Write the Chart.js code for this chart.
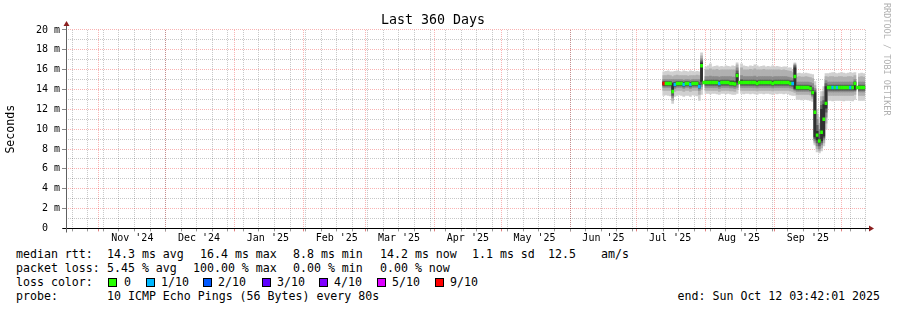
<!DOCTYPE html>
<html><head><meta charset="utf-8">
<script src="https://cdn.jsdelivr.net/npm/chart.js@4.4.1/dist/chart.umd.min.js"></script>
<style>
html,body{margin:0;padding:0;background:#fff;}
#wrap{position:relative;width:897px;height:310px;overflow:hidden;font-family:'DejaVu Sans Mono',monospace;}
#c{position:absolute;left:0;top:0;}
.t{position:absolute;font-size:11.6px;line-height:14px;white-space:pre;color:#000;}
.sw{position:absolute;width:9px;height:9px;box-sizing:border-box;border:1px solid #000;}
#wm{position:absolute;left:882px;top:3px;font-size:8.5px;line-height:10px;writing-mode:vertical-rl;color:#b0b0b0;white-space:pre;}
</style></head>
<body><div id="wrap">
<canvas id="c" width="897" height="245"></canvas>
<div id="wm">RRDTOOL / TOBI OETIKER</div>
<span class="t" style="left:16px;top:247px">median rtt:</span>
<span class="t" style="left:107px;top:247px">14.3 ms avg</span>
<span class="t" style="left:200px;top:247px">16.4 ms max</span>
<span class="t" style="left:293px;top:247px">8.8 ms min</span>
<span class="t" style="left:380px;top:247px">14.2 ms now</span>
<span class="t" style="left:472px;top:247px">1.1 ms sd</span>
<span class="t" style="left:548px;top:247px">12.5</span>
<span class="t" style="left:601px;top:247px">am/s</span>
<span class="t" style="left:16px;top:261px">packet loss:</span>
<span class="t" style="left:107px;top:261px">5.45 % avg</span>
<span class="t" style="left:193px;top:261px">100.00 % max</span>
<span class="t" style="left:293px;top:261px">0.00 % min</span>
<span class="t" style="left:380px;top:261px">0.00 % now</span>
<span class="t" style="left:16px;top:275px">loss color:</span>
<span class="sw" style="left:108px;top:278px;background:#26ff00"></span><span class="t" style="left:124px;top:275px">0</span>
<span class="sw" style="left:146px;top:278px;background:#00b8ff"></span><span class="t" style="left:161px;top:275px">1/10</span>
<span class="sw" style="left:203px;top:278px;background:#0059ff"></span><span class="t" style="left:218px;top:275px">2/10</span>
<span class="sw" style="left:262px;top:278px;background:#5e00ff"></span><span class="t" style="left:277px;top:275px">3/10</span>
<span class="sw" style="left:319px;top:278px;background:#7e00ff"></span><span class="t" style="left:334px;top:275px">4/10</span>
<span class="sw" style="left:377px;top:278px;background:#dd00ff"></span><span class="t" style="left:392px;top:275px">5/10</span>
<span class="sw" style="left:435px;top:278px;background:#ff0000"></span><span class="t" style="left:450px;top:275px">9/10</span>
<span class="t" style="left:16px;top:289px">probe:</span>
<span class="t" style="left:107px;top:289px">10 ICMP Echo Pings (56 Bytes) every 80s</span>
<span class="t" style="right:17px;top:289px">end: Sun Oct 12 03:42:01 2025</span>
</div>
<script>
// ---- time window ----
const START = Date.UTC(2024, 9, 17, 3, 42, 1);
const DAY = 86400000;
const SPAN_DAYS = 360;
const FIRST_DAY = 269; // first day (after window start) with data

const monthStarts = ['2024-11-01','2024-12-01','2025-01-01','2025-02-01','2025-03-01','2025-04-01','2025-05-01','2025-06-01','2025-07-01','2025-08-01','2025-09-01','2025-10-01'];
const labelDates = ['2024-11-16','2024-12-16','2025-01-16','2025-02-16','2025-03-16','2025-04-16','2025-05-16','2025-06-16','2025-07-16','2025-08-16','2025-09-16'];
const monthLabels = ["Nov '24","Dec '24","Jan '25","Feb '25","Mar '25","Apr '25","May '25","Jun '25","Jul '25","Aug '25","Sep '25"];
const firstWeek = '2024-10-20';
const yTickValues = [0,1,2,3,4,5,6,7,8,9,10,11,12,13,14,15,16,17,18,19,20];

// ---- data (ms), one value per day ----
const median = [14.6,14.6,14.6,14.6,13.8,14.5,14.6,14.6,14.6,14.5,
 14.6,14.6,14.5,14.6,14.6,14.6,14.3,16.4,14.7,14.7,
 14.7,14.7,14.7,14.7,14.7,14.6,14.7,14.7,14.7,14.7,
 14.6,14.6,14.55,15.4,14.7,14.7,14.7,14.7,14.7,14.7,
 14.7,14.7,14.6,14.7,14.7,14.7,14.7,14.7,14.7,14.6,
 14.7,14.7,14.7,14.7,14.7,14.7,14.7,14.6,14.6,15.3,
 14.2,14.2,14.2,14.2,14.2,14.2,14.1,13.7,11.7,9.4,
 8.8,9.7,11.0,12.6,14.2,14.2,14.2,14.2,14.2,14.2,
 14.2,14.2,14.2,14.2,14.2,14.2,14.6,14.2,14.2,14.2,
 14.2];
const loss = [9,0,0,0,0,1,0,0,0,1,
 0,0,1,0,0,0,1,0,0,0,
 0,0,0,0,0,1,0,0,0,0,
 0,0,0,0,0,0,0,0,0,0,
 0,0,0,0,0,0,0,0,0,0,
 0,0,0,0,0,0,0,0,1,0,
 0,0,0,0,0,0,0,0,0,0,
 0,0,0,0,0,0,1,0,1,0,
 0,0,0,0,1,0,0,0,0,0,
 0];
const ping10 = [15.8,15.85,15.9,15.8,15.8,15.85,15.9,15.85,15.8,15.9,
 15.85,15.8,15.9,15.85,15.8,15.85,15.8,17.7,null,16.3,
 16.4,16.6,16.3,16.35,16.4,16.3,16.35,16.3,16.4,16.35,
 16.3,16.4,16.35,16.7,null,16.6,16.4,16.35,16.3,16.4,
 16.35,16.5,16.4,16.3,16.35,16.4,16.3,16.35,16.3,16.4,
 16.3,16.35,16.3,16.25,16.3,16.3,16.2,16.2,16.0,16.7,
 15.6,15.65,15.6,15.6,15.65,15.6,15.55,15.5,14.8,12.0,
 11.2,13.8,14.3,15.6,15.6,15.65,15.7,15.65,15.6,15.65,
 15.7,15.65,15.6,15.65,15.7,15.65,15.7,null,15.6,15.65,
 15.6];
const ping9 = [15.4,15.4,15.45,15.4,15.3,15.4,15.45,15.4,15.4,15.4,
 15.4,15.35,15.4,15.4,15.4,15.45,15.4,17.4,null,16.0,
 16.0,16.1,16.0,16.0,16.05,15.95,16.0,16.0,16.0,16.0,
 16.0,16.0,16.0,16.5,null,16.2,16.0,16.0,16.0,16.05,
 16.0,16.1,16.0,16.0,16.0,16.05,16.0,16.0,16.0,16.0,
 16.0,16.0,16.0,15.95,16.0,15.95,15.9,15.85,15.7,16.6,
 15.25,15.3,15.25,15.25,15.3,15.25,15.2,15.1,14.4,11.5,
 10.6,13.3,13.8,15.3,15.25,15.3,15.3,15.25,15.25,15.3,
 15.3,15.25,15.25,15.3,15.3,15.25,15.4,null,15.25,15.3,
 15.25];
const ping8 = [15.0,15.0,15.0,15.0,15.0,15.0,15.0,15.0,15.0,14.95,
 15.0,15.0,14.95,15.0,15.0,15.0,15.0,17.1,null,15.3,
 15.3,15.35,15.3,15.3,15.3,15.25,15.3,15.3,15.3,15.3,
 15.3,15.25,15.25,16.2,null,15.4,15.3,15.3,15.3,15.3,
 15.3,15.35,15.25,15.3,15.3,15.3,15.3,15.3,15.3,15.25,
 15.3,15.3,15.3,15.3,15.3,15.3,15.25,15.2,15.1,16.5,
 14.75,14.75,14.75,14.75,14.75,14.75,14.7,14.6,14.1,11.0,
 10.0,12.8,13.3,14.9,14.75,14.75,14.75,14.75,14.75,14.75,
 14.75,14.75,14.75,14.75,14.75,14.75,15.0,null,14.75,14.75,
 14.75];
const ping7 = [14.8,14.8,14.8,14.8,14.7,14.75,14.8,14.8,14.8,14.75,
 14.8,14.8,14.75,14.8,14.8,14.8,14.7,16.9,null,14.95,
 14.95,14.95,14.95,14.95,14.95,14.9,14.95,14.95,14.95,14.95,
 14.9,14.9,14.85,15.9,null,15.0,14.95,14.95,14.95,14.95,
 14.95,14.95,14.9,14.95,14.95,14.95,14.95,14.95,14.95,14.9,
 14.95,14.95,14.95,14.95,14.95,14.95,14.95,14.9,14.9,16.4,
 14.45,14.45,14.45,14.45,14.45,14.45,14.4,14.2,13.9,10.4,
 9.5,12.4,12.9,14.6,14.45,14.45,14.45,14.45,14.45,14.45,
 14.45,14.45,14.45,14.45,14.45,14.45,14.8,null,14.45,14.45,
 14.45];
const ping6 = [14.75,14.75,14.75,14.75,14.6,14.7,14.75,14.75,14.75,14.7,
 14.75,14.75,14.7,14.75,14.75,14.75,14.5,16.7,null,14.85,
 14.85,14.85,14.85,14.85,14.85,14.8,14.85,14.85,14.85,14.85,
 14.8,14.8,14.75,15.6,null,14.9,14.85,14.85,14.85,14.85,
 14.85,14.85,14.8,14.85,14.85,14.85,14.85,14.85,14.85,14.8,
 14.85,14.85,14.85,14.85,14.85,14.85,14.85,14.8,14.8,16.2,
 14.35,14.35,14.35,14.35,14.35,14.35,14.3,13.9,13.7,9.8,
 9.0,12.0,12.5,14.3,14.35,14.35,14.35,14.35,14.35,14.35,
 14.35,14.35,14.35,14.35,14.35,14.35,14.7,null,14.35,14.35,
 14.35];
const ping5 = [14.45,14.45,14.45,14.45,13.7,14.35,14.45,14.45,14.45,14.35,
 14.45,14.45,14.35,14.45,14.45,14.45,14.2,14.8,null,14.55,
 14.55,14.55,14.55,14.55,14.55,14.45,14.55,14.55,14.55,14.55,
 14.45,14.45,14.4,14.7,null,14.55,14.55,14.55,14.55,14.55,
 14.55,14.55,14.45,14.55,14.55,14.55,14.55,14.55,14.55,14.45,
 14.55,14.55,14.55,14.55,14.55,14.55,14.55,14.45,14.45,14.1,
 14.05,14.05,14.05,14.05,14.05,14.05,13.95,13.55,9.2,8.9,
 8.6,8.8,9.3,12.1,14.05,14.05,14.05,14.05,14.05,14.05,
 14.05,14.05,14.05,14.05,14.05,14.05,14.0,null,14.05,14.05,
 14.05];
const ping4 = [14.35,14.35,14.35,14.35,13.4,14.25,14.35,14.35,14.35,14.25,
 14.35,14.35,14.25,14.35,14.35,14.35,14.1,14.5,null,14.4,
 14.4,14.4,14.4,14.4,14.4,14.3,14.4,14.4,14.4,14.4,
 14.35,14.35,14.3,14.5,null,14.4,14.4,14.4,14.4,14.4,
 14.4,14.4,14.35,14.4,14.4,14.4,14.4,14.4,14.4,14.35,
 14.4,14.4,14.4,14.4,14.4,14.4,14.4,14.35,14.3,14.0,
 13.95,13.95,13.95,13.95,13.95,13.95,13.9,13.45,9.0,8.6,
 8.3,8.6,9.1,11.7,13.9,13.9,13.9,13.9,13.9,13.9,
 13.9,13.9,13.9,13.9,13.9,13.9,13.9,null,13.9,13.9,
 13.9];
const ping3 = [14.2,14.2,14.2,14.2,13.2,14.1,14.2,14.2,14.2,14.1,
 14.2,14.2,14.1,14.2,14.2,14.2,13.9,14.3,null,14.2,
 14.2,14.2,14.2,14.2,14.2,14.1,14.2,14.2,14.2,14.2,
 14.15,14.15,14.1,14.2,null,14.2,14.2,14.2,14.2,14.2,
 14.2,14.2,14.15,14.2,14.2,14.2,14.2,14.2,14.2,14.15,
 14.2,14.2,14.2,14.2,14.2,14.2,14.2,14.15,14.1,13.9,
 13.8,13.8,13.8,13.8,13.8,13.8,13.75,13.3,8.8,8.3,
 8.0,8.4,8.9,11.2,13.75,13.75,13.75,13.75,13.75,13.75,
 13.75,13.75,13.75,13.75,13.75,13.75,13.8,null,13.75,13.75,
 13.75];
const ping2 = [13.9,13.9,13.9,13.9,12.9,13.8,13.9,13.9,13.9,13.8,
 13.9,13.9,13.8,13.9,13.9,13.9,13.5,14.0,null,13.9,
 13.9,13.9,13.9,13.9,13.9,13.8,13.9,13.9,13.9,13.9,
 13.85,13.85,13.8,14.0,null,13.9,13.9,13.9,13.9,13.9,
 13.9,13.9,13.85,13.9,13.9,13.9,13.9,13.9,13.9,13.85,
 13.9,13.9,13.9,13.9,13.9,13.9,13.9,13.85,13.8,13.7,
 13.5,13.5,13.5,13.5,13.5,13.5,13.45,13.1,8.6,8.0,
 7.8,8.1,8.6,10.6,13.4,13.4,13.4,13.4,13.4,13.4,
 13.4,13.4,13.4,13.4,13.4,13.4,13.5,null,13.4,13.4,
 13.4];
const ping1 = [13.4,13.45,13.4,13.35,12.6,13.3,13.4,13.45,13.4,13.3,
 13.4,13.4,13.3,13.45,13.4,13.35,12.9,13.5,null,13.6,
 13.6,13.55,13.6,13.6,13.55,13.5,13.6,13.6,13.55,13.6,
 13.55,13.5,13.5,13.6,null,13.6,13.55,13.6,13.6,13.55,
 13.6,13.55,13.5,13.6,13.6,13.55,13.6,13.6,13.55,13.5,
 13.6,13.55,13.6,13.6,13.55,13.6,13.55,13.45,13.4,13.4,
 13.0,13.0,12.95,13.0,13.0,12.95,12.9,12.8,8.4,7.7,
 7.6,7.8,8.3,10.0,12.9,12.9,12.85,12.9,12.9,12.9,
 12.9,12.85,12.9,12.9,12.9,12.85,13.0,null,12.9,12.9,
 12.9];

// ---- styles ----
const FONT = 'DejaVu Sans Mono';
const MGRID = 'rgba(235,0,0,0.3)';
const GRID = 'rgba(0,0,0,0.22)';
const lossSteps = [[0,'#26ff00'],[1,'#00b8ff'],[2,'#0059ff'],[3,'#5e00ff'],[4,'#7e00ff'],[5,'#dd00ff'],[9,'#ff0000']];
const smokeGrays = ['#d0d0d0','#b0b0b0','#8c8c8c','#606060','#303030'];
const MEDIAN_HALF = 0.15;

function lossColor(l) { let c = lossSteps[0][1]; for (const [t, col] of lossSteps) if (l >= t) c = col; return c; }
function dayOf(s) { return (Date.parse(s + 'T00:00:00Z') - START) / DAY; }

const dayX = median.map((_, i) => FIRST_DAY + i);

const xTicks = [];
monthStarts.forEach(s => xTicks.push({ value: dayOf(s), kind: 'M', txt: '' }));
for (let d = dayOf(firstWeek); d < SPAN_DAYS; d += 7) xTicks.push({ value: d, kind: 'w', txt: '' });
labelDates.forEach((s, i) => xTicks.push({ value: dayOf(s), kind: 'L', txt: monthLabels[i] }));
xTicks.sort((a, b) => a.value - b.value);

const pings = [ping1, ping2, ping3, ping4, ping5, ping6, ping7, ping8, ping9, ping10];
const datasets = [];
datasets.push({
  label: 'median', order: 0, stack: 'rtt',
  data: dayX.map((x, i) => ({ x, y: [median[i] - MEDIAN_HALF, median[i] + MEDIAN_HALF] })),
  backgroundColor: ctx => lossColor(loss[ctx.dataIndex])
});
for (let k = 4; k >= 0; k--) {
  const lo = pings[k], hi = pings[9 - k];
  datasets.push({
    label: 'smoke' + (k + 1), order: 5 - k + 1, stack: 'rtt',
    data: dayX.map((x, i) => ({ x, y: lo[i] == null ? null : [lo[i], hi[i]] })),
    backgroundColor: smokeGrays[k]
  });
}

const rrdAxes = {
  id: 'rrdAxes',
  afterDatasetsDraw(chart) {
    const { ctx, chartArea: a } = chart;
    const xa = Math.floor(a.left) + 0.5, ya = Math.floor(a.bottom) + 0.5;
    ctx.save();
    ctx.setLineDash([]);
    ctx.lineWidth = 1;
    ctx.strokeStyle = '#000';
    ctx.beginPath(); ctx.moveTo(xa - 4, ya); ctx.lineTo(a.right + 3, ya); ctx.stroke();
    ctx.strokeStyle = '#606060';
    ctx.beginPath(); ctx.moveTo(xa, ya + 4); ctx.lineTo(xa, a.top - 4); ctx.stroke();
    ctx.fillStyle = '#8b1f1f';
    ctx.beginPath(); ctx.moveTo(a.right + 3, ya - 3); ctx.lineTo(a.right + 8, ya); ctx.lineTo(a.right + 3, ya + 3); ctx.closePath(); ctx.fill();
    ctx.beginPath(); ctx.moveTo(xa - 3, a.top - 4); ctx.lineTo(xa, a.top - 9); ctx.lineTo(xa + 3, a.top - 4); ctx.closePath(); ctx.fill();
    ctx.restore();
  }
};

new Chart(document.getElementById('c'), {
  type: 'bar',
  data: { datasets },
  options: {
    responsive: false, animation: false, devicePixelRatio: 1,
    layout: { padding: { left: 0, right: 31, top: 0, bottom: 0 } },
    datasets: { bar: { barThickness: 'flex', barPercentage: 1, categoryPercentage: 1, borderWidth: 0, inflateAmount: 0.25 } },
    plugins: {
      legend: { display: false }, tooltip: { enabled: false },
      title: { display: true, text: 'Last 360 Days', color: '#000',
        font: { family: FONT, size: 13.3, weight: 'normal', lineHeight: 1.2 }, padding: { top: 12.5, bottom: 1.5 } }
    },
    scales: {
      x: {
        type: 'linear', min: 0, max: SPAN_DAYS, offset: false,
        afterBuildTicks: s => { s.ticks = xTicks.map(t => ({ value: t.value, kind: t.kind, txt: t.txt })); },
        afterFit: s => { s.height = 16.6; },
        ticks: { autoSkip: false, maxRotation: 0, minRotation: 0, padding: 1, color: '#000',
          font: { family: FONT, size: 10 }, callback: (v, i, t) => t[i].txt },
        grid: { offset: false, lineWidth: 1, tickLength: 3,
          color: c => c.tick && c.tick.kind === 'M' ? MGRID : (c.tick && c.tick.kind === 'w' ? GRID : 'rgba(0,0,0,0)'),
          tickColor: c => c.tick && c.tick.kind === 'M' ? '#e08080' : (c.tick && c.tick.kind === 'w' ? '#999' : 'rgba(0,0,0,0)') },
        border: { display: false, dash: [1, 1] }
      },
      y: {
        min: 0, max: 20, stacked: false,
        afterBuildTicks: s => { s.ticks = yTickValues.map(v => ({ value: v })); },
        afterFit: s => { s.width = 66; },
        ticks: { autoSkip: false, padding: 2, color: '#000', font: { family: FONT, size: 10 },
          callback: v => v % 2 === 0 ? (v === 0 ? '0  ' : v + ' m') : '' },
        grid: { lineWidth: 1, tickLength: 4,
          color: c => c.tick && c.tick.value % 2 === 0 ? MGRID : GRID,
          tickColor: c => c.tick && c.tick.value % 2 === 0 ? '#888' : 'rgba(0,0,0,0)' },
        border: { display: false, dash: [1, 1] },
        title: { display: true, text: 'Seconds', color: '#000', font: { family: FONT, size: 11.6 }, padding: { top: 4, bottom: 0 } }
      }
    }
  },
  plugins: [rrdAxes]
});
</script>
</body></html>
